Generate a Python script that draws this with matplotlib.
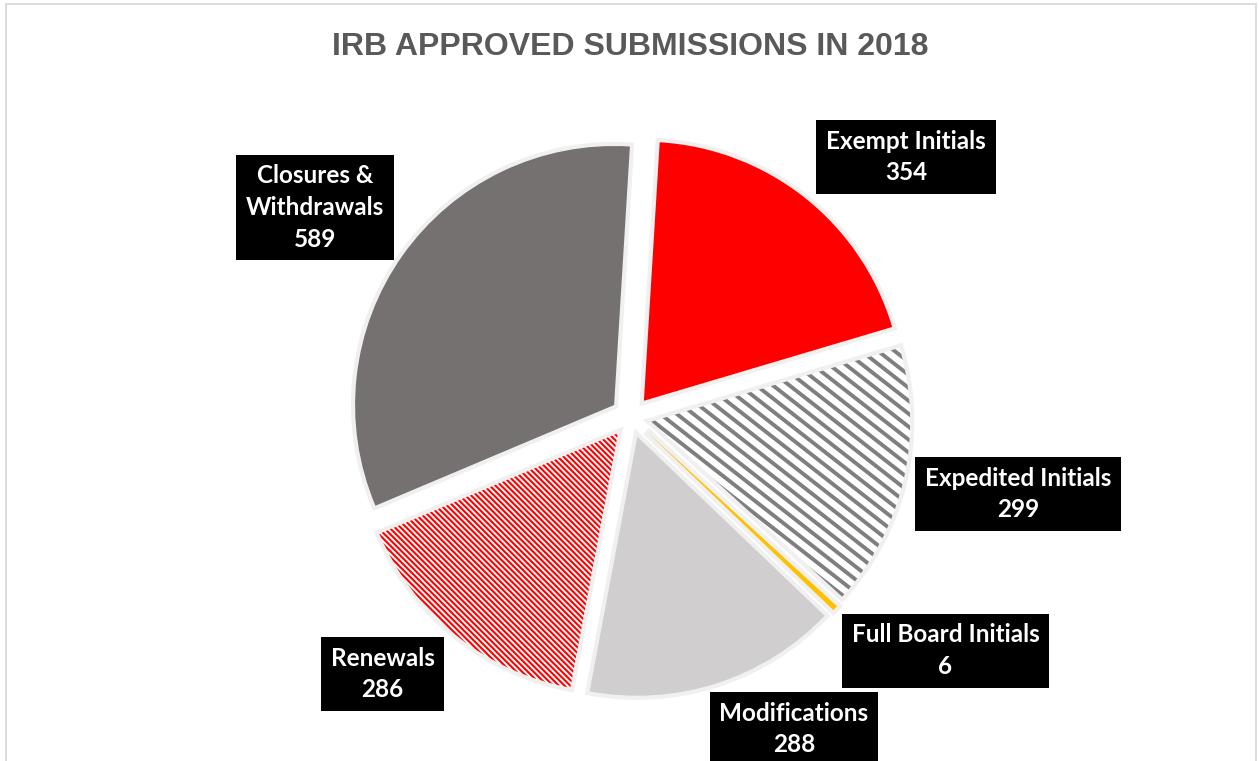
import numpy as np
import matplotlib
matplotlib.use('Agg')
import matplotlib.pyplot as plt
import matplotlib.patheffects as pe
from matplotlib.collections import LineCollection
from matplotlib.patches import Rectangle

# data
categories = ['Exempt Initials', 'Expedited Initials', 'Full Board Initials',
              'Modifications', 'Renewals', 'Closures &\nWithdrawals']
counts = [354, 299, 6, 288, 286, 589]
colors = ['#FF0000', '#FFFFFF', '#FFC000', '#D0CECE', '#FFFFFF', '#767171']
# striped slices: index -> (stripe colour, spacing, line width, angle)
stripes = {1: ('#7F7F7F', 0.050, 2.8, 38), 4: ('#FF0000', 0.022, 1.5, 45)}
# label box centres in pie-radius units
label_pos = [(1.062, 1.004), (1.494, -0.297), (1.214, -0.902),
             (0.629, -1.205), (-0.959, -0.992), (-1.220, 0.809)]

W, H = 1259, 761
cx, cy, R = 631, 417, 259  # pie centre / radius in pixels

fig = plt.figure(figsize=(W / 100, H / 100), dpi=100)
fig.patch.set_facecolor('white')

# chart area border
fig.patches.append(Rectangle((5.5 / W, -0.02), (1256 - 5.5) / W, 1 - 4 / H + 0.02,
                             transform=fig.transFigure, fill=False,
                             edgecolor='#D9D9D9', linewidth=1.3))

ax = fig.add_axes([0, 0, 1, 1])
wedges, _ = ax.pie(counts, colors=colors, startangle=86.5, counterclock=False,
                   explode=[0.08] * len(counts), radius=1,
                   wedgeprops=dict(linewidth=0))
for w in wedges:
    w.set_path_effects([pe.Stroke(linewidth=6, foreground='#F0F0F0'), pe.Normal()])

# diagonal stripes clipped to their slice
for i, (col, step, lw, ang) in stripes.items():
    k = np.tan(np.radians(ang))
    segs = []
    for c in np.arange(-4, 4, step):
        segs.append([(-1.5, 1.5 * k + c), (1.5, -1.5 * k + c)])
    lc = LineCollection(segs, colors=col, linewidths=lw, zorder=3)
    ax.add_collection(lc)
    lc.set_clip_path(wedges[i])

for name, n, (x, y) in zip(categories, counts, label_pos):
    ax.text(x, y, f'{name}\n{n}', ha='center', va='center', multialignment='center',
            color='white', fontsize=17.5, fontweight='bold', family='Lato',
            linespacing=1.45, zorder=5,
            bbox=dict(boxstyle='square,pad=0.4', facecolor='black', edgecolor='none'))

ax.set_xlim(-cx / R, (W - cx) / R)
ax.set_ylim((cy - H) / R, cy / R)
ax.set_aspect('auto')
ax.axis('off')

fig.text(630 / W, 1 - 55 / H, 'IRB APPROVED SUBMISSIONS IN 2018', ha='center',
         va='baseline', fontsize=23, fontweight='bold', color='#595959',
         family='Liberation Sans')

fig.savefig('out.png', dpi=100)
